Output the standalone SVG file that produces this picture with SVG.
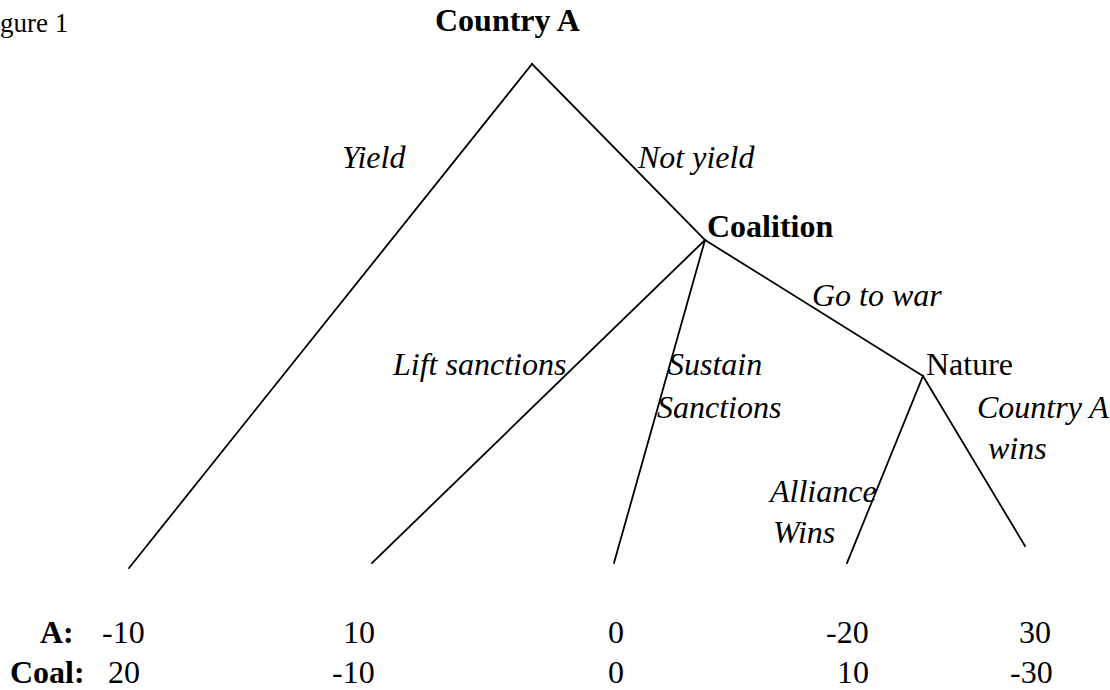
<svg xmlns="http://www.w3.org/2000/svg" width="1110" height="690" viewBox="0 0 1110 690">
<style>
text{font-family:"Liberation Serif","Times New Roman",serif;font-size:32px;fill:#000}
.b{font-weight:bold}
.i{font-style:italic}
.e{stroke:#000;stroke-width:1.8;fill:none;stroke-linecap:square}
</style>
<rect width="1110" height="690" fill="#fff"/>
<text x="0" y="32" style="font-size:27px">gure 1</text>
<g id="connectors">
<line class="e" x1="532" y1="64" x2="129" y2="568"/>
<line class="e" x1="532" y1="64" x2="705" y2="240"/>
<line class="e" x1="705" y1="240" x2="372" y2="563"/>
<line class="e" x1="705" y1="240" x2="614" y2="563"/>
<line class="e" x1="705" y1="240" x2="923" y2="376"/>
<line class="e" x1="923" y1="376" x2="847" y2="563"/>
<line class="e" x1="923" y1="376" x2="1025" y2="546"/>
</g>
<g id="edge-labels">
<text class="i" x="342" y="168">Yield</text>
<text class="i" x="638" y="168">Not yield</text>
<text class="i" x="812" y="306">Go to war</text>
<text class="i" x="393" y="375">Lift sanctions</text>
<text class="i" x="668" y="375">Sustain</text>
<text class="i" x="657" y="418">Sanctions</text>
<text class="i" x="977" y="418">Country A</text>
<text class="i" x="988" y="459">wins</text>
<text class="i" x="770" y="502">Alliance</text>
<text class="i" x="773" y="543">Wins</text>
</g>
<g id="node-countryA"><text class="b" x="435" y="31">Country A</text></g>
<g id="node-coalition"><text class="b" x="707" y="237">Coalition</text></g>
<g id="node-nature"><text x="926" y="375">Nature</text></g>
<g id="payoffs">
<text class="b" x="40" y="643">A:</text>
<text x="102" y="643">-10</text>
<text x="343" y="643">10</text>
<text x="608" y="643">0</text>
<text x="826" y="643">-20</text>
<text x="1019" y="643">30</text>
<text class="b" x="10" y="683">Coal:</text>
<text x="108" y="683">20</text>
<text x="332" y="683">-10</text>
<text x="608" y="683">0</text>
<text x="837" y="683">10</text>
<text x="1010" y="683">-30</text>
</g>
</svg>
